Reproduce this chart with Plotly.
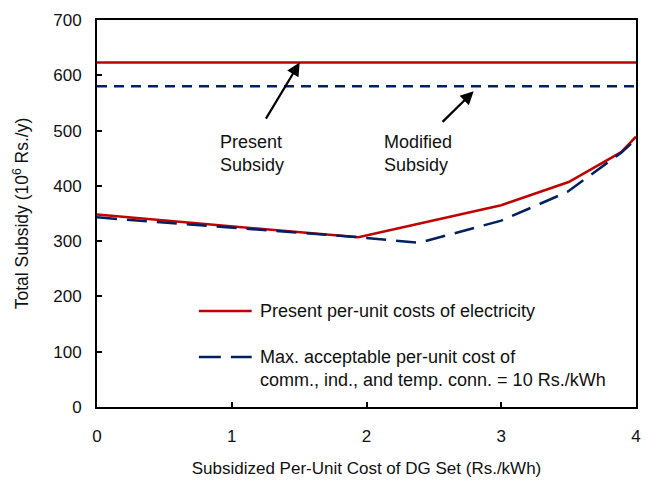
import plotly.graph_objects as go

# Total subsidy vs subsidized per-unit cost of DG set
x_present = [0, 1, 1.94, 3, 3.5, 3.89, 4]
y_present = [348, 327, 307, 365, 407, 461, 489]

x_modified = [0, 1, 1.94, 2.39, 3, 3.49, 3.89, 4]
y_modified = [343, 324, 307, 297, 337, 389, 460, 484]

present_subsidy = 623
modified_subsidy = 580

legend_labels = [
    "Present per-unit costs of electricity",
    "Max. acceptable per-unit cost of<br>comm., ind., and temp. conn. = 10 Rs./kWh",
]

RED = "#C00000"
NAVY = "#002060"
FONT = "Liberation Sans, Arial, sans-serif"
TXT = "#111111"

fig = go.Figure()

fig.add_trace(go.Scatter(x=[0, 4], y=[present_subsidy] * 2, mode="lines",
                         line=dict(color=RED, width=2.5), showlegend=False))
fig.add_trace(go.Scatter(x=[0, 4], y=[modified_subsidy] * 2, mode="lines",
                         line=dict(color=NAVY, width=2.5, dash="10px,7px"),
                         showlegend=False))

fig.add_trace(go.Scatter(x=x_present, y=y_present, mode="lines",
                         name=legend_labels[0], showlegend=False,
                         line=dict(color=RED, width=2.5)))
fig.add_trace(go.Scatter(x=x_modified, y=y_modified, mode="lines",
                         name=legend_labels[1], showlegend=False,
                         line=dict(color=NAVY, width=2.5, dash="20px,10px")))

# Legend keys drawn in paper coordinates
fig.add_shape(type="line", xref="paper", yref="paper", x0=0.189, x1=0.287,
              y0=0.248, y1=0.248, line=dict(color=RED, width=2.5))
fig.add_shape(type="line", xref="paper", yref="paper", x0=0.189, x1=0.287,
              y0=0.129, y1=0.129, line=dict(color=NAVY, width=2.5, dash="22px,10px"))
legend_font = dict(family=FONT, size=18, color=TXT)
fig.add_annotation(xref="paper", yref="paper", x=0.298, y=0.248, text=legend_labels[0],
                   xanchor="left", yanchor="middle", showarrow=False, align="left",
                   font=legend_font)
fig.add_annotation(xref="paper", yref="paper", x=0.298, y=0.1, text=legend_labels[1],
                   xanchor="left", yanchor="middle", showarrow=False, align="left",
                   font=legend_font)

# Arrows pointing to the two subsidy levels
arrow = dict(showarrow=True, arrowhead=2, arrowsize=1.2, arrowwidth=2.2,
             arrowcolor="black", axref="x", ayref="y", text="")
fig.add_annotation(x=1.504, y=623, ax=1.247, ay=519, **arrow)
fig.add_annotation(x=2.795, y=571, ax=2.553, ay=513, **arrow)

label_font = dict(family=FONT, size=18, color=TXT)
fig.add_annotation(x=0.895, y=459, text="Present<br>Subsidy", showarrow=False,
                   xanchor="left", yanchor="middle", align="left", font=label_font)
fig.add_annotation(x=2.113, y=459, text="Modified<br>Subsidy", showarrow=False,
                   xanchor="left", yanchor="middle", align="left", font=label_font)

axis_common = dict(showline=True, linecolor="black", linewidth=2, mirror=True,
                   ticks="inside", ticklen=5, tickwidth=1.5, tickcolor="black",
                   showgrid=False, zeroline=False,
                   tickfont=dict(family=FONT, size=17, color=TXT))

fig.update_layout(
    width=646, height=484,
    margin=dict(l=97, r=5, t=20, b=77),
    paper_bgcolor="white", plot_bgcolor="white",
    font=dict(family=FONT, size=16, color=TXT),
    showlegend=False,
    xaxis=dict(range=[0, 4], dtick=1, ticklabelstandoff=13,
               title=dict(text="Subsidized Per-Unit Cost of DG Set (Rs./kWh)",
                          font=dict(family=FONT, size=17, color=TXT), standoff=17),
               **axis_common),
    yaxis=dict(range=[0, 700], dtick=100, ticklabelstandoff=10,
               title=dict(text="Total Subsidy (10<sup>6</sup> Rs./y)",
                          font=dict(family=FONT, size=17.5, color=TXT), standoff=20),
               **axis_common),
)

fig.write_html("out.html")
